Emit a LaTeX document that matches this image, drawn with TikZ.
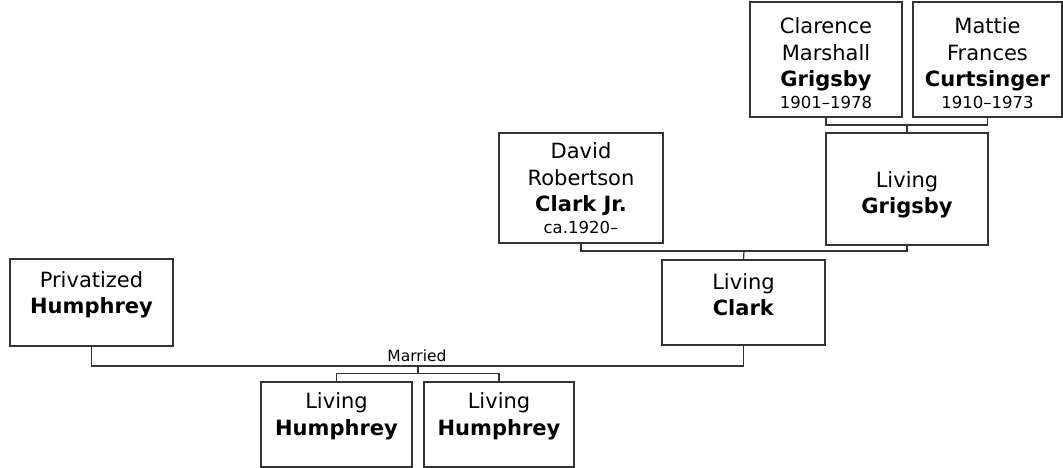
\documentclass[tikz,border=0pt]{standalone}
\usepackage{fontspec}
\setmainfont{DejaVu Sans}
\begin{document}
\begin{tikzpicture}[x=1pt,y=-1pt,
  box/.style={draw=black!80, line width=1.2pt, fill=white, rectangle, inner sep=0pt},
  txt/.style={align=center, inner sep=0pt, font=\fontsize{21}{26.5}\selectfont, text=black},
  link/.style={draw=black!80, line width=1.2pt},
  lbl/.style={inner sep=0pt, font=\fontsize{15.5}{17}\selectfont, text=black}]
\newcommand{\dt}[1]{\\[-5pt]{\fontsize{16.5}{18}\selectfont #1}}
\useasboundingbox (0,0) rectangle (1063,468);
% boxes
\node[box, minimum width=152pt, minimum height=115pt] (clarence) at (826,59.5) {};
\node[box, minimum width=149pt, minimum height=115pt] (mattie) at (987.5,59.5) {};
\node[box, minimum width=162pt, minimum height=112pt] (grigsby) at (907,189) {};
\node[box, minimum width=164pt, minimum height=110pt] (david) at (581,188) {};
\node[box, minimum width=163pt, minimum height=85pt] (clark) at (743.5,302.5) {};
\node[box, minimum width=163pt, minimum height=87pt] (priv) at (91.5,302.5) {};
\node[box, minimum width=151pt, minimum height=85pt] (kid1) at (336.5,424.5) {};
\node[box, minimum width=150pt, minimum height=85pt] (kid2) at (499,424.5) {};
% texts
\node[txt] (clarencet) at (826,63) {Clarence\\Marshall\\\textbf{Grigsby}\dt{1901–1978}};
\node[txt] (mattiet) at (987.5,63) {Mattie\\Frances\\\textbf{Curtsinger}\dt{1910–1973}};
\node[txt] (grigsbyt) at (907,195) {Living\\\textbf{Grigsby}};
\node[txt] (davidt) at (581,188) {David\\Robertson\\\textbf{Clark Jr.}\dt{ca.1920–}};
\node[txt] (clarkt) at (743.5,294.5) {Living\\\textbf{Clark}};
\node[txt] (privt) at (91.5,295) {Privatized\\\textbf{Humphrey}};
\node[txt] (kid1t) at (336.5,416.5) {Living\\\textbf{Humphrey}};
\node[txt] (kid2t) at (499,416.5) {Living\\\textbf{Humphrey}};
% junctions
\coordinate (jg) at (907,125);
\coordinate (jc) at (744,251);
\coordinate (jm) at (418,366);
\coordinate (jk) at (418,373.5);
\draw[link] (clarence.south) |- (jg) -| (mattie.south);
\draw[link] (jg) -- (grigsby.north);
\draw[link] (david.south) |- (jc) -| (grigsby.south);
\draw[link] (jc) -- (clark.north);
\draw[link] (priv.south) |- (jm) -| (clark.south);
\draw[link] (jm) -- (jk);
\draw[link] (kid1.north) |- (jk) -| (kid2.north);
\node[lbl, anchor=south] (married) at (417,362) {Married};
\end{tikzpicture}
\end{document}
